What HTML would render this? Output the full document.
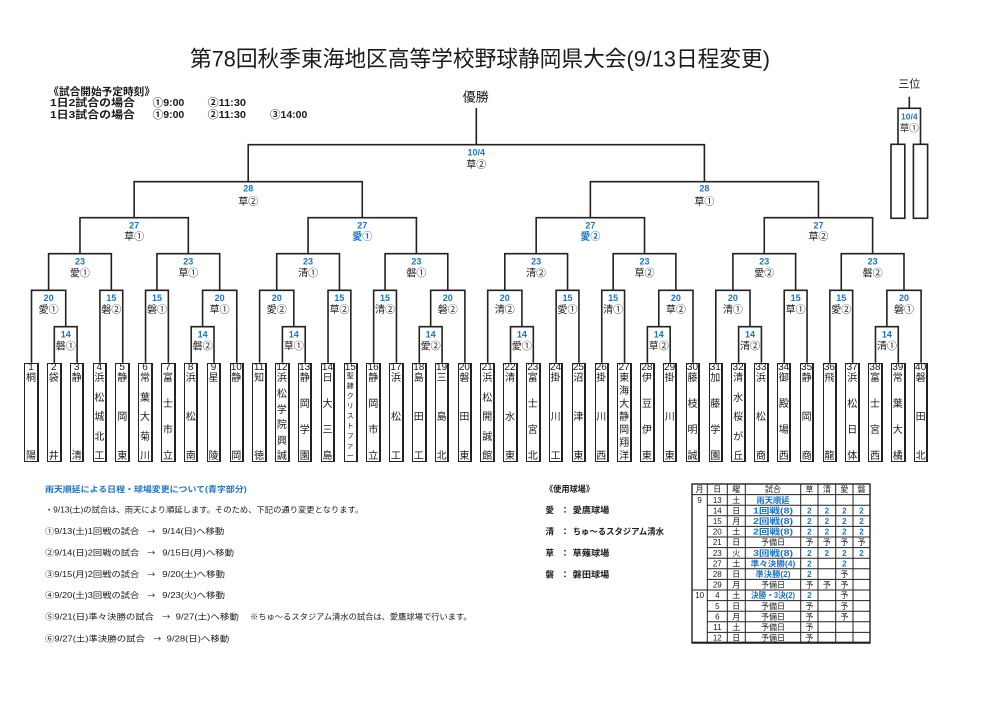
<!DOCTYPE html>
<html><head><meta charset="utf-8">
<style>
html,body{margin:0;padding:0;background:#fff;}
body{width:993px;height:701px;position:relative;overflow:hidden;font-family:"Liberation Sans","Noto Sans CJK JP",sans-serif;color:#1a1a1a;}
svg{position:absolute;left:0;top:0;}
.b{position:absolute;top:362.7px;width:14.6px;height:99px;border:1.4px solid #222;border-right-width:2px;box-sizing:border-box;}
.n{position:absolute;top:-1.4px;left:-5px;right:-5px;text-align:center;font-size:10px;line-height:11px;}
.t{position:absolute;top:9.6px;bottom:-1.8px;left:-5px;right:-5px;display:flex;flex-direction:column;justify-content:space-between;align-items:center;font-size:10px;line-height:11px;}
.t.s{font-size:7px;line-height:8px;top:9.4px;bottom:0px;}
</style></head><body>
<svg width="993" height="701" viewBox="0 0 993 701">
<style>
text{font-family:"Liberation Sans","Noto Sans CJK JP",sans-serif;fill:#1a1a1a;}
.d{font-size:9px;font-weight:bold;fill:#1a74c8;text-anchor:middle}
.v{font-size:10px;text-anchor:middle}
.vb{font-size:10px;font-weight:bold;fill:#1a74c8;text-anchor:middle}
.hb{font-size:10.5px;font-weight:bold}
.nt{font-size:8px}
.ar{font-size:8px;font-family:"Noto Sans CJK JP",sans-serif}
.nb{font-size:8px;font-weight:bold;fill:#1a74c8}
.lg{font-size:8.5px;font-weight:bold}
.tt{font-size:8px;text-anchor:middle}
.tb{font-size:8px;font-weight:bold;fill:#1a74c8;text-anchor:middle}
</style>
<defs>
<path id="grp" d="M54.31 362.7V326.7H77.12V362.7 M31.5 362.7V290.3H65.72V326.7 M99.93 362.7V290.3H122.74V362.7 M48.61 290.3V253.7H111.34V290.3 M145.55 362.7V290.3H168.36V362.7 M191.17 362.7V326.7H213.98V362.7 M202.58 326.7V290.3H236.79V362.7 M156.96 290.3V253.7H219.68V290.3 M79.97 253.7V217.7H188.32V253.7"/>
</defs>
<g fill="none" stroke="#222" stroke-width="1.6">
<use href="#grp"/>
<use href="#grp" x="228.1"/>
<use href="#grp" x="456.2"/>
<use href="#grp" x="684.3"/>
<path d="M134.15 217.7V181.7H362.25V217.7 M590.35 217.7V181.7H818.45V217.7 M248.2 181.7V144.7H704.4V181.7 M476.3 144.7V108"/>
<path d="M898 144.3V108.3H920.5V144.3 M909.3 108.3V96.7"/>
<rect x="891" y="144.3" width="13.8" height="74"/>
<rect x="913.4" y="144.3" width="14.2" height="74"/>
</g>

<text x="190" y="66.7" font-size="22" textLength="580" lengthAdjust="spacingAndGlyphs">第78回秋季東海地区高等学校野球静岡県大会(9/13日程変更)</text>

<text class="hb" x="48.3" y="94.8" textLength="106.7" lengthAdjust="spacingAndGlyphs">《試合開始予定時刻》</text>
<text class="hb" x="50" y="106.1" textLength="85" lengthAdjust="spacingAndGlyphs">1日2試合の場合</text>
<text class="hb" x="152.7" y="106.1" textLength="31.6" lengthAdjust="spacingAndGlyphs">①9:00</text>
<text class="hb" x="207.7" y="106.1" textLength="38.3" lengthAdjust="spacingAndGlyphs">②11:30</text>
<text class="hb" x="50" y="118.1" textLength="85" lengthAdjust="spacingAndGlyphs">1日3試合の場合</text>
<text class="hb" x="152.7" y="118.1" textLength="31.6" lengthAdjust="spacingAndGlyphs">①9:00</text>
<text class="hb" x="207.7" y="118.1" textLength="38.3" lengthAdjust="spacingAndGlyphs">②11:30</text>
<text class="hb" x="270" y="118.1" textLength="37.3" lengthAdjust="spacingAndGlyphs">③14:00</text>

<text x="475.7" y="101.6" font-size="13" text-anchor="middle">優勝</text>
<text x="909.3" y="87.5" font-size="11" text-anchor="middle">三位</text>
<text class="d" x="909.3" y="119.7" style="font-size:8.5px">10/4</text>
<text class="v" x="909.3" y="131.3" style="font-size:9.5px">草①</text>

<text class="d" x="476.3" y="155.6">10/4</text><text class="v" x="476.3" y="168.1">草②</text>
<text class="d" x="248.2" y="191.6">28</text><text class="v" x="248.2" y="204.8">草②</text>
<text class="d" x="704.4" y="191.6">28</text><text class="v" x="704.4" y="204.8">草①</text>

<text class="d" x="65.72" y="337.3">14</text><text class="v" x="65.72" y="349.5">磐①</text>
<text class="d" x="48.61" y="301">20</text><text class="v" x="48.61" y="313.1">愛①</text>
<text class="d" x="111.34" y="301">15</text><text class="v" x="111.34" y="313.1">磐②</text>
<text class="d" x="79.97" y="264.6">23</text><text class="v" x="79.97" y="276.5">愛①</text>
<text class="d" x="156.96" y="301">15</text><text class="v" x="156.96" y="313.1">磐①</text>
<text class="d" x="202.58" y="337.3">14</text><text class="v" x="202.58" y="349.5">磐②</text>
<text class="d" x="219.68" y="301">20</text><text class="v" x="219.68" y="313.1">草①</text>
<text class="d" x="188.32" y="264.6">23</text><text class="v" x="188.32" y="276.5">草①</text>
<text class="d" x="134.15" y="228.3">27</text><text class="v" x="134.15" y="239.8">草①</text>

<text class="d" x="293.82" y="337.3">14</text><text class="v" x="293.82" y="349.5">草①</text>
<text class="d" x="276.71" y="301">20</text><text class="v" x="276.71" y="313.1">愛②</text>
<text class="d" x="339.44" y="301">15</text><text class="v" x="339.44" y="313.1">草②</text>
<text class="d" x="308.07" y="264.6">23</text><text class="v" x="308.07" y="276.5">清①</text>
<text class="d" x="385.06" y="301">15</text><text class="v" x="385.06" y="313.1">清②</text>
<text class="d" x="430.68" y="337.3">14</text><text class="v" x="430.68" y="349.5">愛②</text>
<text class="d" x="447.78" y="301">20</text><text class="v" x="447.78" y="313.1">磐②</text>
<text class="d" x="416.42" y="264.6">23</text><text class="v" x="416.42" y="276.5">磐①</text>
<text class="d" x="362.25" y="228.3">27</text><text class="vb" x="362.25" y="239.8">愛①</text>

<text class="d" x="521.92" y="337.3">14</text><text class="v" x="521.92" y="349.5">愛①</text>
<text class="d" x="504.81" y="301">20</text><text class="v" x="504.81" y="313.1">清②</text>
<text class="d" x="567.54" y="301">15</text><text class="v" x="567.54" y="313.1">愛①</text>
<text class="d" x="536.17" y="264.6">23</text><text class="v" x="536.17" y="276.5">清②</text>
<text class="d" x="613.16" y="301">15</text><text class="v" x="613.16" y="313.1">清①</text>
<text class="d" x="658.78" y="337.3">14</text><text class="v" x="658.78" y="349.5">草②</text>
<text class="d" x="675.88" y="301">20</text><text class="v" x="675.88" y="313.1">草②</text>
<text class="d" x="644.52" y="264.6">23</text><text class="v" x="644.52" y="276.5">草②</text>
<text class="d" x="590.35" y="228.3">27</text><text class="vb" x="590.35" y="239.8">愛②</text>

<text class="d" x="750.02" y="337.3">14</text><text class="v" x="750.02" y="349.5">清②</text>
<text class="d" x="732.91" y="301">20</text><text class="v" x="732.91" y="313.1">清①</text>
<text class="d" x="795.64" y="301">15</text><text class="v" x="795.64" y="313.1">草①</text>
<text class="d" x="764.27" y="264.6">23</text><text class="v" x="764.27" y="276.5">愛②</text>
<text class="d" x="841.26" y="301">15</text><text class="v" x="841.26" y="313.1">愛②</text>
<text class="d" x="886.88" y="337.3">14</text><text class="v" x="886.88" y="349.5">清①</text>
<text class="d" x="903.98" y="301">20</text><text class="v" x="903.98" y="313.1">磐①</text>
<text class="d" x="872.62" y="264.6">23</text><text class="v" x="872.62" y="276.5">磐②</text>
<text class="d" x="818.45" y="228.3">27</text><text class="v" x="818.45" y="239.8">草②</text>

<text class="nb" x="45" y="492" textLength="201.7" lengthAdjust="spacingAndGlyphs">雨天順延による日程・球場変更について(青字部分)</text>
<text class="nt" x="45" y="512.3" textLength="318.3" lengthAdjust="spacingAndGlyphs">・9/13(土)の試合は、雨天により順延します。そのため、下記の通り変更となります。</text>

<text class="nt" x="45" y="534" textLength="94.3" lengthAdjust="spacingAndGlyphs">①9/13(土)1回戦の試合</text>
<text class="ar" x="147.3" y="534">→</text>
<text class="nt" x="162.3" y="534" textLength="62" lengthAdjust="spacingAndGlyphs">9/14(日)へ移動</text>

<text class="nt" x="45" y="555.7" textLength="94.3" lengthAdjust="spacingAndGlyphs">②9/14(日)2回戦の試合</text>
<text class="ar" x="147.3" y="555.7">→</text>
<text class="nt" x="162.3" y="555.7" textLength="71.7" lengthAdjust="spacingAndGlyphs">9/15日(月)へ移動</text>

<text class="nt" x="45" y="577" textLength="94.3" lengthAdjust="spacingAndGlyphs">③9/15(月)2回戦の試合</text>
<text class="ar" x="147.3" y="577">→</text>
<text class="nt" x="162.3" y="577" textLength="62.7" lengthAdjust="spacingAndGlyphs">9/20(土)へ移動</text>

<text class="nt" x="45" y="598" textLength="94.3" lengthAdjust="spacingAndGlyphs">④9/20(土)3回戦の試合</text>
<text class="ar" x="147.3" y="598">→</text>
<text class="nt" x="162.3" y="598" textLength="62.7" lengthAdjust="spacingAndGlyphs">9/23(火)へ移動</text>

<text class="nt" x="45" y="619.7" textLength="109" lengthAdjust="spacingAndGlyphs">⑤9/21(日)準々決勝の試合</text>
<text class="ar" x="162.3" y="619.7">→</text>
<text class="nt" x="175.7" y="619.7" textLength="63.3" lengthAdjust="spacingAndGlyphs">9/27(土)へ移動</text>
<text class="nt" x="250" y="619.7" textLength="221.7" lengthAdjust="spacingAndGlyphs">※ちゅ～るスタジアム清水の試合は、愛鷹球場で行います。</text>

<text class="nt" x="45" y="641.3" textLength="100" lengthAdjust="spacingAndGlyphs">⑥9/27(土)準決勝の試合</text>
<text class="ar" x="153.3" y="641.3">→</text>
<text class="nt" x="166.7" y="641.3" textLength="62.6" lengthAdjust="spacingAndGlyphs">9/28(日)へ移動</text>

<text class="lg" x="545" y="492" textLength="49" lengthAdjust="spacingAndGlyphs">《使用球場》</text>
<text class="lg" x="545.5" y="513">愛</text><text class="lg" x="560.8" y="513">：</text><text class="lg" x="572.7" y="513" textLength="36.6" lengthAdjust="spacingAndGlyphs">愛鷹球場</text>
<text class="lg" x="545.5" y="534.7">清</text><text class="lg" x="560.8" y="534.7">：</text><text class="lg" x="572.7" y="534.7" textLength="91.3" lengthAdjust="spacingAndGlyphs">ちゅ～るスタジアム清水</text>
<text class="lg" x="545.5" y="556">草</text><text class="lg" x="560.8" y="556">：</text><text class="lg" x="572.7" y="556" textLength="36.6" lengthAdjust="spacingAndGlyphs">草薙球場</text>
<text class="lg" x="545.5" y="577.3">磐</text><text class="lg" x="560.8" y="577.3">：</text><text class="lg" x="572.7" y="577.3" textLength="36.6" lengthAdjust="spacingAndGlyphs">磐田球場</text>

<g fill="none" stroke="#222" stroke-width="1">
<rect x="692" y="484" width="178" height="159" stroke-width="1.4"/>
<path d="M707.3 484V643 M727.3 484V643 M745.3 484V643 M800.7 484V643 M818 484V643 M835.7 484V643 M853 484V643"/>
<path d="M692 494.6H870 M707.3 505.2H870 M707.3 515.8H870 M707.3 526.4H870 M707.3 537H870 M707.3 547.6H870 M707.3 558.2H870 M707.3 568.8H870 M707.3 579.4H870 M692 590H870 M707.3 600.6H870 M707.3 611.2H870 M707.3 621.8H870 M707.3 632.4H870"/>
<path d="M692 642.6H870" stroke-width="2"/>
</g>
<text class="tt" x="699.65" y="492.2">月</text><text class="tt" x="717.3" y="492.2">日</text><text class="tt" x="736.3" y="492.2">曜</text><text class="tt" x="773" y="492.2">試合</text><text class="tt" x="809.35" y="492.2">草</text><text class="tt" x="826.85" y="492.2">清</text><text class="tt" x="844.35" y="492.2">愛</text><text class="tt" x="861.5" y="492.2">磐</text>

<text class="tt" x="699.65" y="502.8">9</text>
<text class="tt" x="717.3" y="502.8">13</text><text class="tt" x="736.3" y="502.8">土</text><text class="tb" x="773" y="502.8" textLength="33" lengthAdjust="spacingAndGlyphs">雨天順延</text>

<text class="tt" x="717.3" y="513.4">14</text><text class="tt" x="736.3" y="513.4">日</text><text class="tb" x="773" y="513.4" textLength="40" lengthAdjust="spacingAndGlyphs">1回戦(8)</text>
<text class="tb" x="809.35" y="513.4">2</text><text class="tb" x="826.85" y="513.4">2</text><text class="tb" x="844.35" y="513.4">2</text><text class="tb" x="861.5" y="513.4">2</text>

<text class="tt" x="717.3" y="524">15</text><text class="tt" x="736.3" y="524">月</text><text class="tb" x="773" y="524" textLength="40" lengthAdjust="spacingAndGlyphs">2回戦(8)</text>
<text class="tb" x="809.35" y="524">2</text><text class="tb" x="826.85" y="524">2</text><text class="tb" x="844.35" y="524">2</text><text class="tb" x="861.5" y="524">2</text>

<text class="tt" x="717.3" y="534.6">20</text><text class="tt" x="736.3" y="534.6">土</text><text class="tb" x="773" y="534.6" textLength="40" lengthAdjust="spacingAndGlyphs">2回戦(8)</text>
<text class="tb" x="809.35" y="534.6">2</text><text class="tb" x="826.85" y="534.6">2</text><text class="tb" x="844.35" y="534.6">2</text><text class="tb" x="861.5" y="534.6">2</text>

<text class="tt" x="717.3" y="545.2">21</text><text class="tt" x="736.3" y="545.2">日</text><text class="tt" x="773" y="545.2" textLength="24" lengthAdjust="spacingAndGlyphs">予備日</text>
<text class="tt" x="809.35" y="545.2">予</text><text class="tt" x="826.85" y="545.2">予</text><text class="tt" x="844.35" y="545.2">予</text><text class="tt" x="861.5" y="545.2">予</text>

<text class="tt" x="717.3" y="555.8">23</text><text class="tt" x="736.3" y="555.8">火</text><text class="tb" x="773" y="555.8" textLength="40" lengthAdjust="spacingAndGlyphs">3回戦(8)</text>
<text class="tb" x="809.35" y="555.8">2</text><text class="tb" x="826.85" y="555.8">2</text><text class="tb" x="844.35" y="555.8">2</text><text class="tb" x="861.5" y="555.8">2</text>

<text class="tt" x="717.3" y="566.4">27</text><text class="tt" x="736.3" y="566.4">土</text><text class="tb" x="773" y="566.4" textLength="44.7" lengthAdjust="spacingAndGlyphs">準々決勝(4)</text>
<text class="tb" x="809.35" y="566.4">2</text><text class="tb" x="844.35" y="566.4">2</text>

<text class="tt" x="717.3" y="577">28</text><text class="tt" x="736.3" y="577">日</text><text class="tb" x="773" y="577" textLength="35" lengthAdjust="spacingAndGlyphs">準決勝(2)</text>
<text class="tb" x="809.35" y="577">2</text><text class="tt" x="844.35" y="577">予</text>

<text class="tt" x="717.3" y="587.6">29</text><text class="tt" x="736.3" y="587.6">月</text><text class="tt" x="773" y="587.6" textLength="24" lengthAdjust="spacingAndGlyphs">予備日</text>
<text class="tt" x="809.35" y="587.6">予</text><text class="tt" x="826.85" y="587.6">予</text><text class="tt" x="844.35" y="587.6">予</text>

<text class="tt" x="699.65" y="598.2">10</text>
<text class="tt" x="717.3" y="598.2">4</text><text class="tt" x="736.3" y="598.2">土</text><text class="tb" x="773" y="598.2" textLength="44" lengthAdjust="spacingAndGlyphs">決勝・3決(2)</text>
<text class="tb" x="809.35" y="598.2">2</text><text class="tt" x="844.35" y="598.2">予</text>

<text class="tt" x="717.3" y="608.8">5</text><text class="tt" x="736.3" y="608.8">日</text><text class="tt" x="773" y="608.8" textLength="24" lengthAdjust="spacingAndGlyphs">予備日</text>
<text class="tt" x="809.35" y="608.8">予</text><text class="tt" x="844.35" y="608.8">予</text>

<text class="tt" x="717.3" y="619.4">6</text><text class="tt" x="736.3" y="619.4">月</text><text class="tt" x="773" y="619.4" textLength="24" lengthAdjust="spacingAndGlyphs">予備日</text>
<text class="tt" x="809.35" y="619.4">予</text><text class="tt" x="844.35" y="619.4">予</text>

<text class="tt" x="717.3" y="630">11</text><text class="tt" x="736.3" y="630">土</text><text class="tt" x="773" y="630" textLength="24" lengthAdjust="spacingAndGlyphs">予備日</text>
<text class="tt" x="809.35" y="630">予</text>

<text class="tt" x="717.3" y="640.6">12</text><text class="tt" x="736.3" y="640.6">日</text><text class="tt" x="773" y="640.6" textLength="24" lengthAdjust="spacingAndGlyphs">予備日</text>
<text class="tt" x="809.35" y="640.6">予</text>
</svg>

<div class="b" style="left:24.2px"><div class="n">1</div><div class="t"><span>桐</span><span>陽</span></div></div>
<div class="b" style="left:47.0px"><div class="n">2</div><div class="t"><span>袋</span><span>井</span></div></div>
<div class="b" style="left:69.8px"><div class="n">3</div><div class="t"><span>静</span><span>清</span></div></div>
<div class="b" style="left:92.6px"><div class="n">4</div><div class="t"><span>浜</span><span>松</span><span>城</span><span>北</span><span>工</span></div></div>
<div class="b" style="left:115.4px"><div class="n">5</div><div class="t"><span>静</span><span>岡</span><span>東</span></div></div>
<div class="b" style="left:138.2px"><div class="n">6</div><div class="t"><span>常</span><span>葉</span><span>大</span><span>菊</span><span>川</span></div></div>
<div class="b" style="left:161.1px"><div class="n">7</div><div class="t"><span>富</span><span>士</span><span>市</span><span>立</span></div></div>
<div class="b" style="left:183.9px"><div class="n">8</div><div class="t"><span>浜</span><span>松</span><span>南</span></div></div>
<div class="b" style="left:206.7px"><div class="n">9</div><div class="t"><span>星</span><span>陵</span></div></div>
<div class="b" style="left:229.5px"><div class="n">10</div><div class="t"><span>静</span><span>岡</span></div></div>
<div class="b" style="left:252.3px"><div class="n">11</div><div class="t"><span>知</span><span>徳</span></div></div>
<div class="b" style="left:275.1px"><div class="n">12</div><div class="t"><span>浜</span><span>松</span><span>学</span><span>院</span><span>興</span><span>誠</span></div></div>
<div class="b" style="left:297.9px"><div class="n">13</div><div class="t"><span>静</span><span>岡</span><span>学</span><span>園</span></div></div>
<div class="b" style="left:320.7px"><div class="n">14</div><div class="t"><span>日</span><span>大</span><span>三</span><span>島</span></div></div>
<div class="b" style="left:343.5px"><div class="n">15</div><div class="t s"><span>聖</span><span>隷</span><span>ク</span><span>リ</span><span>ス</span><span>ト</span><span>フ</span><span>ァ</span><span>ー</span></div></div>
<div class="b" style="left:366.4px"><div class="n">16</div><div class="t"><span>静</span><span>岡</span><span>市</span><span>立</span></div></div>
<div class="b" style="left:389.2px"><div class="n">17</div><div class="t"><span>浜</span><span>松</span><span>工</span></div></div>
<div class="b" style="left:412.0px"><div class="n">18</div><div class="t"><span>島</span><span>田</span><span>工</span></div></div>
<div class="b" style="left:434.8px"><div class="n">19</div><div class="t"><span>三</span><span>島</span><span>北</span></div></div>
<div class="b" style="left:457.6px"><div class="n">20</div><div class="t"><span>磐</span><span>田</span><span>東</span></div></div>
<div class="b" style="left:480.4px"><div class="n">21</div><div class="t"><span>浜</span><span>松</span><span>開</span><span>誠</span><span>館</span></div></div>
<div class="b" style="left:503.2px"><div class="n">22</div><div class="t"><span>清</span><span>水</span><span>東</span></div></div>
<div class="b" style="left:526.0px"><div class="n">23</div><div class="t"><span>富</span><span>士</span><span>宮</span><span>北</span></div></div>
<div class="b" style="left:548.8px"><div class="n">24</div><div class="t"><span>掛</span><span>川</span><span>工</span></div></div>
<div class="b" style="left:571.6px"><div class="n">25</div><div class="t"><span>沼</span><span>津</span><span>東</span></div></div>
<div class="b" style="left:594.5px"><div class="n">26</div><div class="t"><span>掛</span><span>川</span><span>西</span></div></div>
<div class="b" style="left:617.3px"><div class="n">27</div><div class="t"><span>東</span><span>海</span><span>大</span><span>静</span><span>岡</span><span>翔</span><span>洋</span></div></div>
<div class="b" style="left:640.1px"><div class="n">28</div><div class="t"><span>伊</span><span>豆</span><span>伊</span><span>東</span></div></div>
<div class="b" style="left:662.9px"><div class="n">29</div><div class="t"><span>掛</span><span>川</span><span>東</span></div></div>
<div class="b" style="left:685.7px"><div class="n">30</div><div class="t"><span>藤</span><span>枝</span><span>明</span><span>誠</span></div></div>
<div class="b" style="left:708.5px"><div class="n">31</div><div class="t"><span>加</span><span>藤</span><span>学</span><span>園</span></div></div>
<div class="b" style="left:731.3px"><div class="n">32</div><div class="t"><span>清</span><span>水</span><span>桜</span><span>が</span><span>丘</span></div></div>
<div class="b" style="left:754.1px"><div class="n">33</div><div class="t"><span>浜</span><span>松</span><span>商</span></div></div>
<div class="b" style="left:776.9px"><div class="n">34</div><div class="t"><span>御</span><span>殿</span><span>場</span><span>西</span></div></div>
<div class="b" style="left:799.8px"><div class="n">35</div><div class="t"><span>静</span><span>岡</span><span>商</span></div></div>
<div class="b" style="left:822.6px"><div class="n">36</div><div class="t"><span>飛</span><span>龍</span></div></div>
<div class="b" style="left:845.4px"><div class="n">37</div><div class="t"><span>浜</span><span>松</span><span>日</span><span>体</span></div></div>
<div class="b" style="left:868.2px"><div class="n">38</div><div class="t"><span>富</span><span>士</span><span>宮</span><span>西</span></div></div>
<div class="b" style="left:891.0px"><div class="n">39</div><div class="t"><span>常</span><span>葉</span><span>大</span><span>橘</span></div></div>
<div class="b" style="left:913.8px"><div class="n">40</div><div class="t"><span>磐</span><span>田</span><span>北</span></div></div>
</body></html>
